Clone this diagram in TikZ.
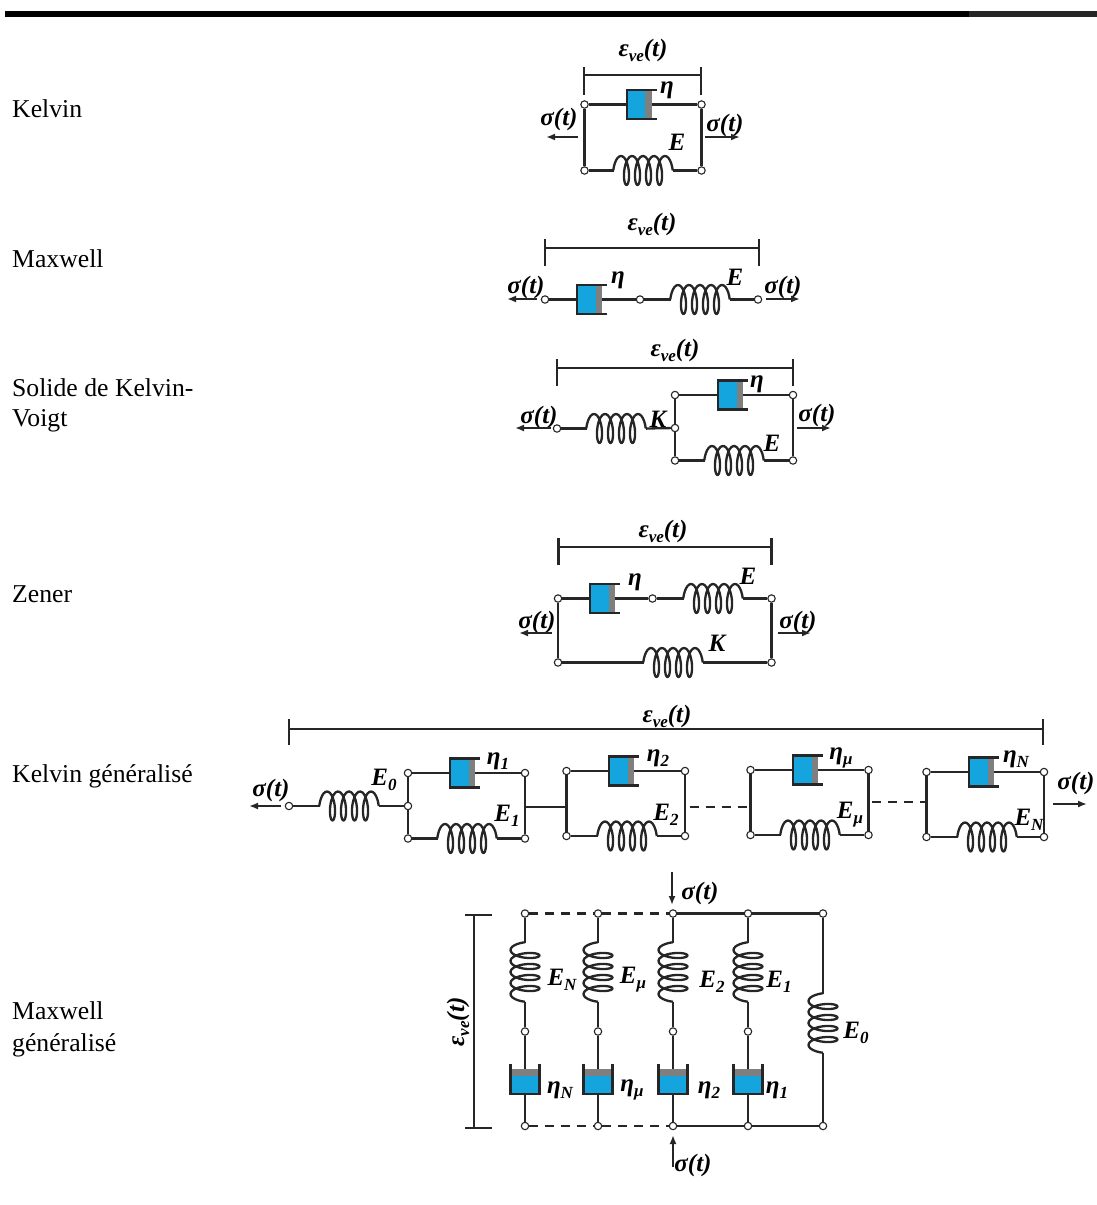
\documentclass[tikz,border=0pt]{standalone}
\usepackage{fontspec}
\setmainfont{Liberation Serif}
\usepackage{tikz}
\usetikzlibrary{arrows.meta}
\definecolor{dashblue}{HTML}{15A5DE}
\definecolor{dashgray}{HTML}{7F7F7F}
\def\stress{σ(t)}
\def\strain{ε\raisebox{-0.45ex}{\fontsize{17}{17}\selectfont ve}(t)}
\newcommand{\lbl}[2]{#1\raisebox{-0.45ex}{\fontsize{17}{17}\selectfont #2}}
\tikzset{
  wire/.style={line width=2.3pt,black!85},
  term/.style={circle,draw=black!85,fill=white,line width=1.1pt,inner sep=0pt,minimum size=7.4pt},
  pull/.style={line width=2.1pt,black!85,-{Latex[length=9pt,width=7pt]}},
  sym/.style={font=\fontsize{25}{25}\selectfont\bfseries\itshape,inner sep=0pt},
  modelname/.style={font=\fontsize{25.7}{30}\selectfont,anchor=base west,inner sep=0pt},
  spring/.pic={
    \draw[wire,line join=round] plot[smooth,domain=-90:1530,samples=110]
      ({-22+0.030556*\x+5*sin(\x)},{-14.5*cos(\x)});
    \draw[wire] (-30,0) -- (-29.7,0) (29.7,0) -- (30,0);
    \coordinate (-a) at (-30,0);
    \coordinate (-b) at (30,0);
  },
  dashpot/.pic={
    \fill[dashblue] (-15,-14.5) rectangle (3.5,14.5);
    \fill[dashgray] (3.5,-14.5) rectangle (10,14.5);
    \draw[wire] (15,-14.5) -- (-15,-14.5) -- (-15,14.5) -- (15,14.5);
    \coordinate (-a) at (-15,0);
    \coordinate (-b) at (10,0);
  }
}
\begin{document}
\begin{tikzpicture}[x=1pt,y=-1pt]
  \useasboundingbox (0,0) rectangle (1097,1205);
  \fill[black] (5,11) rectangle (969,17);
  \fill[black!85] (969,11) rectangle (1097,17);
  % Kelvin
  \node[modelname] (nameK) at (12,117.5) {Kelvin};
  \draw[wire] (584,75) -- (701,75);
  \draw[wire] (584,67) -- (584,95);
  \draw[wire] (701,67) -- (701,95);
  \node[sym] (keps) at (643,50) {\strain};
  \node[term] (ka) at (584.5,104.5) {};
  \node[term] (kb) at (701.5,104.5) {};
  \node[term] (kc) at (584.5,170.5) {};
  \node[term] (kd) at (701.5,170.5) {};
  \pic (kdash) at (641.7,104.5) {dashpot};
  \pic (kspr) at (643,170.5) {spring};
  \draw[wire] (ka) -- (kdash-a);
  \draw[wire] (kdash-b) -- (kb);
  \draw[wire] (kc) -- (kspr-a);
  \draw[wire] (kspr-b) -- (kd);
  \draw[wire] (ka) -- (kc);
  \draw[wire] (kb) -- (kd);
  \node[sym] (keta) at (667,90) {η};
  \node[sym] (kE) at (677,142) {E};
  \node[sym] (ksl) at (559,119) {\stress};
  \node[sym] (ksr) at (725,125) {\stress};
  \draw[pull] (578,137) -- (546,137);
  \draw[pull] (705,137) -- (740,137);
  % Maxwell
  \node[modelname] (nameM) at (12,267.5) {Maxwell};
  \draw[wire] (545,248) -- (759,248);
  \draw[wire] (545,239) -- (545,266);
  \draw[wire] (759,239) -- (759,266);
  \node[sym] (meps) at (652,224) {\strain};
  \node[term] (ma) at (545,299.5) {};
  \node[term] (mb) at (640,299.5) {};
  \node[term] (mc) at (758,299.5) {};
  \pic (mdash) at (592.3,299.5) {dashpot};
  \pic (mspr) at (700,299.5) {spring};
  \draw[wire] (ma) -- (mdash-a);
  \draw[wire] (mdash-b) -- (mb);
  \draw[wire] (mb) -- (mspr-a);
  \draw[wire] (mspr-b) -- (mc);
  \node[sym] (meta) at (618,280) {η};
  \node[sym] (mE) at (735,277) {E};
  \node[sym] (msl) at (526,287) {\stress};
  \node[sym] (msr) at (783,287) {\stress};
  \draw[pull] (537,299) -- (507,299);
  \draw[pull] (766,299) -- (800,299);
  % Solide de Kelvin-Voigt
  \node[modelname] (nameS) at (12,396) {Solide de Kelvin-};
  \node[modelname] (nameSb) at (12,426.5) {Voigt};
  \draw[wire] (557,368) -- (793,368);
  \draw[wire] (557,359) -- (557,386);
  \draw[wire] (793,359) -- (793,386);
  \node[sym] (seps) at (675,350) {\strain};
  \node[term] (sa) at (557,428.5) {};
  \node[term] (sb) at (675,395) {};
  \node[term] (sc) at (793,395) {};
  \node[term] (sj) at (675,428) {};
  \node[term] (sd) at (675,460.5) {};
  \node[term] (se) at (793,460.5) {};
  \pic (sspr) at (616,428.5) {spring};
  \pic (sdash) at (733,395) {dashpot};
  \pic (sspb) at (734,460.5) {spring};
  \draw[wire] (sa) -- (sspr-a);
  \draw[wire] (sspr-b) -- (sj);
  \draw[wire] (sb) -- (sj);
  \draw[wire] (sj) -- (sd);
  \draw[wire] (sc) -- (se);
  \draw[wire] (sb) -- (sdash-a);
  \draw[wire] (sdash-b) -- (sc);
  \draw[wire] (sd) -- (sspb-a);
  \draw[wire] (sspb-b) -- (se);
  \node[sym] (seta) at (757,384) {η};
  \node[sym] (sE) at (772,443) {E};
  \node[sym] (sK) at (658,419) {K};
  \node[sym] (ssl) at (539,417) {\stress};
  \node[sym] (ssr) at (817,415) {\stress};
  \draw[pull] (551,428) -- (515,428);
  \draw[pull] (797,428) -- (831,428);
  % Zener
  \node[modelname] (nameZ) at (12,602.5) {Zener};
  \draw[wire] (558.5,547) -- (771.5,547);
  \draw[wire] (558.5,538) -- (558.5,565);
  \draw[wire] (771.5,538) -- (771.5,565);
  \node[sym] (zeps) at (663,531) {\strain};
  \node[term] (za) at (558,598.5) {};
  \node[term] (zb) at (652.5,598.5) {};
  \node[term] (zc) at (771.5,598.5) {};
  \node[term] (zd) at (558,662.5) {};
  \node[term] (ze) at (771.5,662.5) {};
  \pic (zdash) at (605,598.5) {dashpot};
  \pic (zspr) at (713,598.5) {spring};
  \pic (zspb) at (673,662.5) {spring};
  \draw[wire] (za) -- (zdash-a);
  \draw[wire] (zdash-b) -- (zb);
  \draw[wire] (zb) -- (zspr-a);
  \draw[wire] (zspr-b) -- (zc);
  \draw[wire] (za) -- (zd);
  \draw[wire] (zc) -- (ze);
  \draw[wire] (zd) -- (zspb-a);
  \draw[wire] (zspb-b) -- (ze);
  \node[sym] (zeta) at (635,582) {η};
  \node[sym] (zE) at (748,576) {E};
  \node[sym] (zK) at (717,643) {K};
  \node[sym] (zsl) at (537,622) {\stress};
  \node[sym] (zsr) at (798,622) {\stress};
  \draw[pull] (552,633) -- (519,633);
  \draw[pull] (778,633) -- (811,633);
  % Kelvin generalise
  \node[modelname] (nameG) at (12,782.5) {Kelvin généralisé};
  \draw[wire] (289,729) -- (1043,729);
  \draw[wire] (289,719) -- (289,745);
  \draw[wire] (1043,719) -- (1043,745);
  \node[sym] (geps) at (667,716) {\strain};
  \node[term] (ga) at (289,806) {};
  \pic (gspr) at (349,806) {spring};
  \foreach \nm/\xl/\xr/\yt/\yb/\xd/\xs in {one/408/525/773/838.5/465/467,two/566.5/685/771/836/624/627,mu/750.5/868.5/770/835/808/810,en/926.5/1044/772/837/984/987}{
    \node[term] (g\nm a) at (\xl,\yt) {};
    \node[term] (g\nm b) at (\xr,\yt) {};
    \node[term] (g\nm c) at (\xl,\yb) {};
    \node[term] (g\nm d) at (\xr,\yb) {};
    \pic (g\nm dash) at (\xd,\yt) {dashpot};
    \pic (g\nm spr) at (\xs,\yb) {spring};
    \draw[wire] (g\nm a) -- (g\nm dash-a);
    \draw[wire] (g\nm dash-b) -- (g\nm b);
    \draw[wire] (g\nm c) -- (g\nm spr-a);
    \draw[wire] (g\nm spr-b) -- (g\nm d);
    \draw[wire] (g\nm a) -- (g\nm c);
    \draw[wire] (g\nm b) -- (g\nm d);
  }
  \node[term] (gj) at (408,806) {};
  \draw[wire] (ga) -- (gspr-a);
  \draw[wire] (gspr-b) -- (gj);
  \draw[wire] (525,806.7) -- (566.5,806.7);
  \draw[wire,dash pattern=on 9pt off 7pt] (690,806.7) -- (750.5,806.7);
  \draw[wire,dash pattern=on 9pt off 7pt] (872,802) -- (926.5,802);
  \node[sym] (gE0) at (384,780) {\lbl{E}{0}};
  \node[sym] (geta1) at (498,761) {\lbl{η}{1}};
  \node[sym] (gE1) at (507,816) {\lbl{E}{1}};
  \node[sym] (geta2) at (658,758) {\lbl{η}{2}};
  \node[sym] (gE2) at (666,815) {\lbl{E}{2}};
  \node[sym] (getam) at (841,758) {\lbl{η}{μ}};
  \node[sym] (gEm) at (850,815) {\lbl{E}{μ}};
  \node[sym] (getan) at (1016,759) {\lbl{η}{N}};
  \node[sym] (gEn) at (1029,820) {\lbl{E}{N}};
  \node[sym] (gsl) at (271,790) {\stress};
  \node[sym] (gsr) at (1076,783) {\stress};
  \draw[pull] (281,806) -- (249,806);
  \draw[pull] (1053,804) -- (1087,804);
  % Maxwell generalise
  \node[modelname] (nameH) at (12,1019.5) {Maxwell};
  \node[modelname] (nameHb) at (12,1051.5) {généralisé};
  \draw[wire] (474,915) -- (474,1128);
  \draw[wire] (465,915) -- (492,915);
  \draw[wire] (465,1128) -- (492,1128);
  \node[sym,rotate=90] (heps) at (458,1022) {\strain};
  \foreach \nm/\xc in {n/525,m/598,b/673,a/748}{
    \node[term] (h\nm a) at (\xc,913.5) {};
    \node[term] (h\nm b) at (\xc,1031.5) {};
    \node[term] (h\nm c) at (\xc,1126) {};
    \pic[rotate=90] (h\nm spr) at (\xc,972) {spring};
    \pic[rotate=90] (h\nm dash) at (\xc,1079) {dashpot};
    \draw[wire] (h\nm a) -- (h\nm spr-b);
    \draw[wire] (h\nm spr-a) -- (h\nm b);
    \draw[wire] (h\nm b) -- (h\nm dash-b);
    \draw[wire] (h\nm dash-a) -- (h\nm c);
  }
  \node[term] (hza) at (823,913.5) {};
  \node[term] (hzc) at (823,1126) {};
  \pic[rotate=90] (hzspr) at (823,1023) {spring};
  \draw[wire] (hza) -- (hzspr-b);
  \draw[wire] (hzspr-a) -- (hzc);
  \draw[wire,dash pattern=on 9pt off 7pt] (hna) -- (hma);
  \draw[wire,dash pattern=on 9pt off 7pt] (hma) -- (hba);
  \draw[wire] (hba) -- (haa);
  \draw[wire] (haa) -- (hza);
  \draw[wire,dash pattern=on 9pt off 7pt] (hnc) -- (hmc);
  \draw[wire,dash pattern=on 9pt off 7pt] (hmc) -- (hbc);
  \draw[wire] (hbc) -- (hac);
  \draw[wire] (hac) -- (hzc);
  \node[sym] (hEn) at (562,980) {\lbl{E}{N}};
  \node[sym] (hEm) at (633,980) {\lbl{E}{μ}};
  \node[sym] (hEb) at (712,982) {\lbl{E}{2}};
  \node[sym] (hEa) at (779,982) {\lbl{E}{1}};
  \node[sym] (hEz) at (856,1033) {\lbl{E}{0}};
  \node[sym] (hetan) at (560,1090) {\lbl{η}{N}};
  \node[sym] (hetam) at (632,1090) {\lbl{η}{μ}};
  \node[sym] (hetab) at (709,1090) {\lbl{η}{2}};
  \node[sym] (hetaa) at (777,1090) {\lbl{η}{1}};
  \node[sym] (hst) at (700,893) {\stress};
  \node[sym] (hsb) at (693,1165) {\stress};
  \draw[pull] (672,872) -- (672,905);
  \draw[pull] (673,1167) -- (673,1135);
\end{tikzpicture}
\end{document}
